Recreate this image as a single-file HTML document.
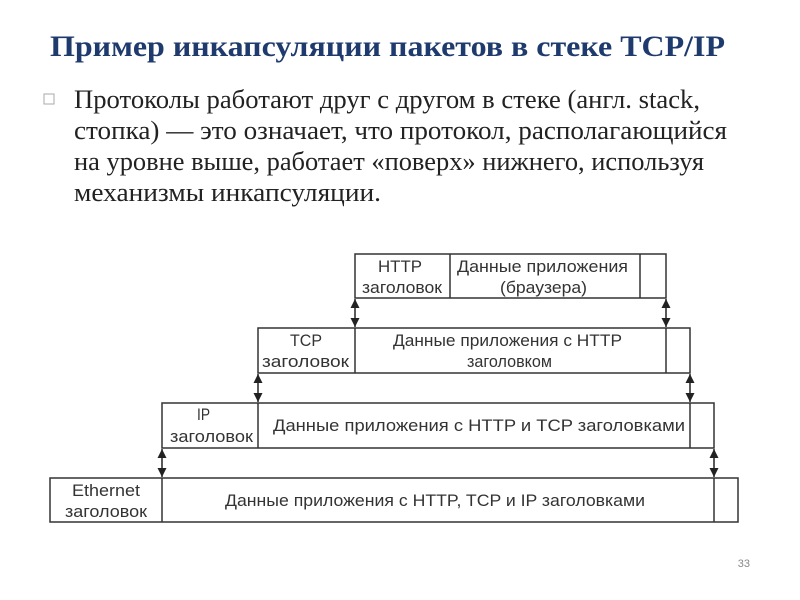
<!DOCTYPE html>
<html><head><meta charset="utf-8"><style>
html,body{margin:0;padding:0;background:#fff;}
svg{display:block}
</style></head><body>
<svg width="800" height="600" xmlns="http://www.w3.org/2000/svg">
<text x="50" y="56" font-family="Liberation Serif, serif" font-weight="bold" font-size="30" fill="#1f3b6e" textLength="675" lengthAdjust="spacingAndGlyphs">Пример инкапсуляции пакетов в стеке TCP/IP</text>
<rect x="44" y="94" width="10" height="10" fill="none" stroke="#aaa" stroke-width="1"/>
<g font-family="Liberation Serif, serif" font-size="26" fill="#222">
<text x="74" y="108" textLength="626" lengthAdjust="spacingAndGlyphs">Протоколы работают друг с другом в стеке (англ. stack,</text>
<text x="74" y="139" textLength="653" lengthAdjust="spacingAndGlyphs">стопка) — это означает, что протокол, располагающийся</text>
<text x="74" y="170" textLength="630" lengthAdjust="spacingAndGlyphs">на уровне выше, работает «поверх» нижнего, используя</text>
<text x="74" y="201" textLength="307" lengthAdjust="spacingAndGlyphs">механизмы инкапсуляции.</text>
</g>
<text x="750" y="567" font-family="Liberation Sans, sans-serif" font-size="11" fill="#888" text-anchor="end">33</text>
<defs><marker id="a" viewBox="0 0 10 10" refX="10" refY="5" markerWidth="6" markerHeight="6" orient="auto-start-reverse"><path d="M0,0L10,5L0,10z" fill="#222"/></marker></defs>
<g fill="#fff" stroke="#333" stroke-width="1.5">
<rect x="355" y="254" width="311" height="44"/><line x1="450" y1="254" x2="450" y2="298"/><line x1="640" y1="254" x2="640" y2="298"/>
<rect x="258" y="328" width="432" height="45"/><line x1="355" y1="328" x2="355" y2="373"/><line x1="666" y1="328" x2="666" y2="373"/>
<rect x="162" y="403" width="552" height="45"/><line x1="258" y1="403" x2="258" y2="448"/><line x1="690" y1="403" x2="690" y2="448"/>
<rect x="50" y="478" width="688" height="44"/><line x1="162" y1="478" x2="162" y2="522"/><line x1="714" y1="478" x2="714" y2="522"/>
</g>
<g stroke="#222" stroke-width="1.5" marker-start="url(#a)" marker-end="url(#a)">
<line x1="355" y1="299" x2="355" y2="327"/><line x1="666" y1="299" x2="666" y2="327"/>
<line x1="258" y1="374" x2="258" y2="402"/><line x1="690" y1="374" x2="690" y2="402"/>
<line x1="162" y1="449" x2="162" y2="477"/><line x1="714" y1="449" x2="714" y2="477"/>
</g>
<g font-family="Liberation Sans, sans-serif" font-size="17" fill="#333">
<text x="378" y="272" textLength="44" lengthAdjust="spacingAndGlyphs">HTTP</text><text x="362" y="293" textLength="80" lengthAdjust="spacingAndGlyphs">заголовок</text>
<text x="457" y="272" textLength="171" lengthAdjust="spacingAndGlyphs">Данные приложения</text><text x="500" y="293" textLength="87" lengthAdjust="spacingAndGlyphs">(браузера)</text>
<text x="290" y="346" textLength="32" lengthAdjust="spacingAndGlyphs">TCP</text><text x="262" y="367" textLength="87" lengthAdjust="spacingAndGlyphs">заголовок</text>
<text x="393" y="346" textLength="229" lengthAdjust="spacingAndGlyphs">Данные приложения с HTTP</text><text x="467" y="367" textLength="85" lengthAdjust="spacingAndGlyphs">заголовком</text>
<text x="197" y="420" textLength="13" lengthAdjust="spacingAndGlyphs">IP</text><text x="170" y="442" textLength="83" lengthAdjust="spacingAndGlyphs">заголовок</text>
<text x="273" y="431" textLength="412" lengthAdjust="spacingAndGlyphs">Данные приложения с HTTP  и TCP заголовками</text>
<text x="72" y="496" textLength="68" lengthAdjust="spacingAndGlyphs">Ethernet</text><text x="65" y="517" textLength="82" lengthAdjust="spacingAndGlyphs">заголовок</text>
<text x="225" y="506" textLength="420" lengthAdjust="spacingAndGlyphs">Данные приложения с HTTP, TCP и IP заголовками</text>
</g>
</svg>
</body></html>
